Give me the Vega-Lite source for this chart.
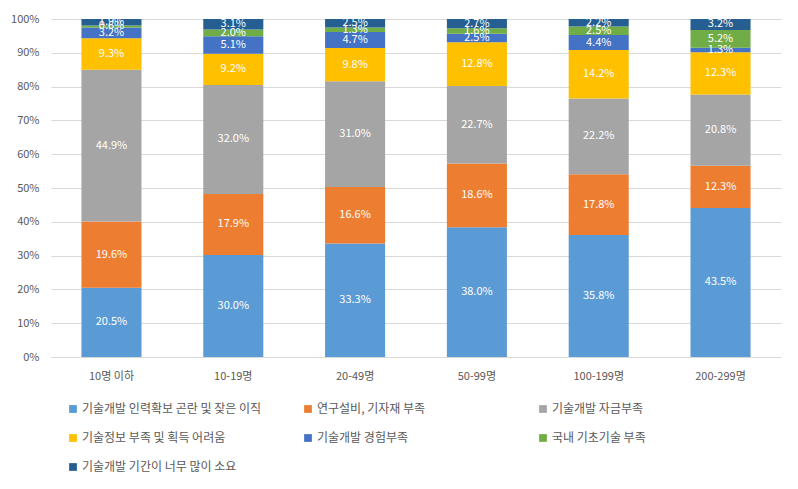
{
  "$schema": "https://vega.github.io/schema/vega-lite/v6.json",
  "width": 730,
  "height": 338,
  "padding": {"left": 51, "top": 19, "right": 17, "bottom": 132},
  "autosize": {"type": "none"},
  "config": {
    "font": "Noto Sans CJK KR",
    "view": {"stroke": null},
    "axis": {"labelColor": "#595959", "labelFontSize": 11, "labelFont": "Noto Sans CJK KR"}
  },
  "data": {"values": [
    {"size": "10명 이하", "cat": "기술개발 인력확보 곤란 및 잦은 이직", "o": 1, "v": 20.5},
    {"size": "10명 이하", "cat": "연구설비, 기자재 부족", "o": 2, "v": 19.6},
    {"size": "10명 이하", "cat": "기술개발 자금부족", "o": 3, "v": 44.9},
    {"size": "10명 이하", "cat": "기술정보 부족 및 획득 어려움", "o": 4, "v": 9.3},
    {"size": "10명 이하", "cat": "기술개발 경험부족", "o": 5, "v": 3.2},
    {"size": "10명 이하", "cat": "국내 기초기술 부족", "o": 6, "v": 0.6},
    {"size": "10명 이하", "cat": "기술개발 기간이 너무 많이 소요", "o": 7, "v": 1.9},
    {"size": "10-19명", "cat": "기술개발 인력확보 곤란 및 잦은 이직", "o": 1, "v": 30.0},
    {"size": "10-19명", "cat": "연구설비, 기자재 부족", "o": 2, "v": 17.9},
    {"size": "10-19명", "cat": "기술개발 자금부족", "o": 3, "v": 32.0},
    {"size": "10-19명", "cat": "기술정보 부족 및 획득 어려움", "o": 4, "v": 9.2},
    {"size": "10-19명", "cat": "기술개발 경험부족", "o": 5, "v": 5.1},
    {"size": "10-19명", "cat": "국내 기초기술 부족", "o": 6, "v": 2.0},
    {"size": "10-19명", "cat": "기술개발 기간이 너무 많이 소요", "o": 7, "v": 3.1},
    {"size": "20-49명", "cat": "기술개발 인력확보 곤란 및 잦은 이직", "o": 1, "v": 33.3},
    {"size": "20-49명", "cat": "연구설비, 기자재 부족", "o": 2, "v": 16.6},
    {"size": "20-49명", "cat": "기술개발 자금부족", "o": 3, "v": 31.0},
    {"size": "20-49명", "cat": "기술정보 부족 및 획득 어려움", "o": 4, "v": 9.8},
    {"size": "20-49명", "cat": "기술개발 경험부족", "o": 5, "v": 4.7},
    {"size": "20-49명", "cat": "국내 기초기술 부족", "o": 6, "v": 1.3},
    {"size": "20-49명", "cat": "기술개발 기간이 너무 많이 소요", "o": 7, "v": 2.5},
    {"size": "50-99명", "cat": "기술개발 인력확보 곤란 및 잦은 이직", "o": 1, "v": 38.0},
    {"size": "50-99명", "cat": "연구설비, 기자재 부족", "o": 2, "v": 18.6},
    {"size": "50-99명", "cat": "기술개발 자금부족", "o": 3, "v": 22.7},
    {"size": "50-99명", "cat": "기술정보 부족 및 획득 어려움", "o": 4, "v": 12.8},
    {"size": "50-99명", "cat": "기술개발 경험부족", "o": 5, "v": 2.5},
    {"size": "50-99명", "cat": "국내 기초기술 부족", "o": 6, "v": 1.6},
    {"size": "50-99명", "cat": "기술개발 기간이 너무 많이 소요", "o": 7, "v": 2.7},
    {"size": "100-199명", "cat": "기술개발 인력확보 곤란 및 잦은 이직", "o": 1, "v": 35.8},
    {"size": "100-199명", "cat": "연구설비, 기자재 부족", "o": 2, "v": 17.8},
    {"size": "100-199명", "cat": "기술개발 자금부족", "o": 3, "v": 22.2},
    {"size": "100-199명", "cat": "기술정보 부족 및 획득 어려움", "o": 4, "v": 14.2},
    {"size": "100-199명", "cat": "기술개발 경험부족", "o": 5, "v": 4.4},
    {"size": "100-199명", "cat": "국내 기초기술 부족", "o": 6, "v": 2.5},
    {"size": "100-199명", "cat": "기술개발 기간이 너무 많이 소요", "o": 7, "v": 2.2},
    {"size": "200-299명", "cat": "기술개발 인력확보 곤란 및 잦은 이직", "o": 1, "v": 43.5},
    {"size": "200-299명", "cat": "연구설비, 기자재 부족", "o": 2, "v": 12.3},
    {"size": "200-299명", "cat": "기술개발 자금부족", "o": 3, "v": 20.8},
    {"size": "200-299명", "cat": "기술정보 부족 및 획득 어려움", "o": 4, "v": 12.3},
    {"size": "200-299명", "cat": "기술개발 경험부족", "o": 5, "v": 1.3},
    {"size": "200-299명", "cat": "국내 기초기술 부족", "o": 6, "v": 5.2},
    {"size": "200-299명", "cat": "기술개발 기간이 너무 많이 소요", "o": 7, "v": 3.2}
  ]},
  "transform": [
    {"stack": "v", "groupby": ["size"], "sort": [{"field": "o"}], "as": ["v0", "v1"], "offset": "normalize"},
    {"calculate": "(datum.v0 + datum.v1) / 2", "as": "mid"},
    {"calculate": "format(datum.v, '.1f') + '%'", "as": "lab"}
  ],
  "encoding": {
    "x": {
      "field": "size", "type": "nominal", "sort": null, "title": null,
      "scale": {"paddingInner": 0.507, "paddingOuter": 0.25},
      "axis": {"labelAngle": 0, "domainColor": "#d9d9d9", "ticks": false, "labelPadding": 13}
    }
  },
  "layer": [
    {
      "mark": {"type": "bar"},
      "encoding": {
        "y": {
          "field": "v0", "type": "quantitative", "title": null,
          "scale": {"domain": [0, 1], "nice": false},
          "axis": {"format": ".0%", "values": [0, 0.1, 0.2, 0.3, 0.4, 0.5, 0.6, 0.7, 0.8, 0.9, 1.0], "labelOverlap": false, "gridColor": "#d9d9d9", "domain": false, "ticks": false, "labelPadding": 12}
        },
        "y2": {"field": "v1"},
        "color": {
          "field": "cat", "type": "nominal",
          "sort": ["기술개발 인력확보 곤란 및 잦은 이직", "연구설비, 기자재 부족", "기술개발 자금부족", "기술정보 부족 및 획득 어려움", "기술개발 경험부족", "국내 기초기술 부족", "기술개발 기간이 너무 많이 소요"],
          "scale": {"range": ["#5B9BD5", "#ED7D31", "#A5A5A5", "#FFC000", "#4472C4", "#70AD47", "#255E91"]},
          "legend": {
            "title": null, "orient": "none", "legendX": 16, "legendY": 384,
            "direction": "horizontal", "columns": 3, "gridAlign": "all",
            "symbolType": "square", "symbolSize": 60, "symbolStrokeWidth": 0,
            "labelFontSize": 12, "labelColor": "#595959", "labelLimit": 300,
            "columnPadding": 40, "rowPadding": 17, "labelOffset": 3
          }
        }
      }
    },
    {
      "mark": {"type": "text", "color": "white", "fontSize": 11, "font": "Noto Sans CJK KR"},
      "encoding": {
        "y": {
          "field": "mid", "type": "quantitative", "title": null,
          "scale": {"domain": [0, 1], "nice": false},
          "axis": {"format": ".0%", "values": [0, 0.1, 0.2, 0.3, 0.4, 0.5, 0.6, 0.7, 0.8, 0.9, 1.0], "labelOverlap": false, "gridColor": "#d9d9d9", "domain": false, "ticks": false, "labelPadding": 12}
        },
        "text": {"field": "lab"}
      }
    }
  ]
}
